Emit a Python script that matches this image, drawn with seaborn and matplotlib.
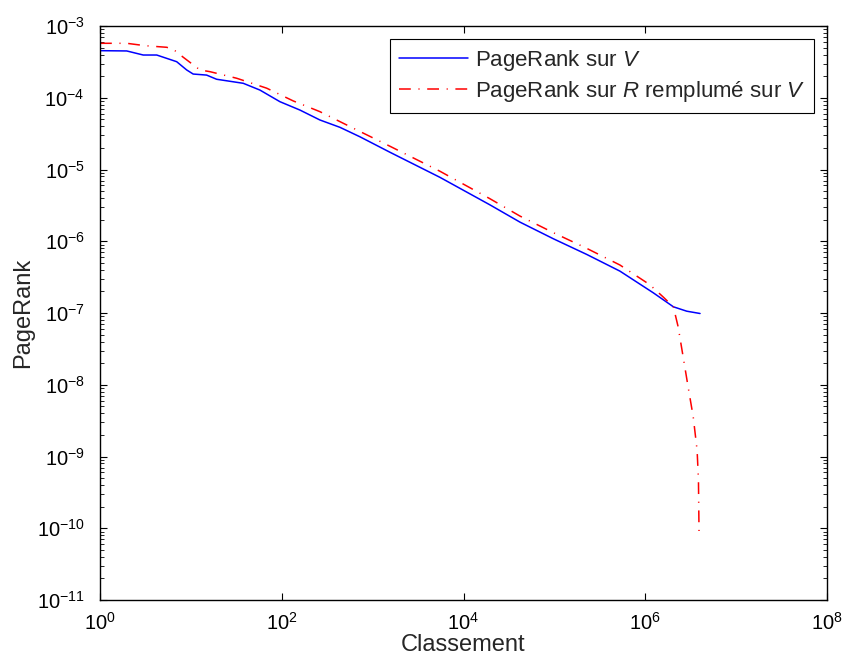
import numpy as np
import pandas as pd
import matplotlib
matplotlib.use("Agg")
import matplotlib.pyplot as plt
import seaborn as sns
from matplotlib.ticker import FixedLocator, NullLocator, NullFormatter, LogFormatterSciNotation

# ---- data ----
rank_v = [1, 1.97, 2.99, 4.21, 6.98, 8.99, 10.6, 14.9, 19.2, 37.7, 57.5, 95.5,
          158, 263, 437, 724, 1550, 5500, 19500, 41900, 97300, 227000,
          527000, 1.227e6, 2.04e6, 2.86e6, 4.01e6]
pagerank_v = [4.53e-4, 4.49e-4, 3.94e-4, 3.94e-4, 3.18e-4, 2.44e-4, 2.14e-4,
              2.07e-4, 1.81e-4, 1.59e-4, 1.28e-4, 8.81e-5, 6.75e-5, 4.90e-5,
              3.87e-5, 2.86e-5, 1.74e-5, 7.78e-6, 3.22e-6, 1.845e-6, 1.084e-6,
              6.55e-7, 3.83e-7, 1.91e-7, 1.22e-7, 1.06e-7, 9.84e-8]

rank_r = [1, 1.97, 3.16, 5.42, 6.40, 8.26, 12.6, 16.2, 31.9, 68.2, 134, 263,
          475, 1550, 5500, 19500, 41900, 97300, 227000, 527000, 1.122e6,
          1.585e6, 2.04e6, 2.30e6, 2.61e6, 2.96e6, 3.37e6, 3.72e6, 3.85e6,
          3.91e6]
pagerank_r = [5.74e-4, 5.74e-4, 5.31e-4, 5.05e-4, 4.73e-4, 3.66e-4, 2.44e-4,
              2.31e-4, 1.87e-4, 1.36e-4, 9.02e-5, 6.40e-5, 4.41e-5, 2.11e-5,
              9.46e-6, 3.92e-6, 2.24e-6, 1.318e-6, 7.96e-7, 4.66e-7, 2.48e-7,
              1.66e-7, 1.22e-7, 6.44e-8, 2.46e-8, 9.4e-9, 3.59e-9, 1.23e-9,
              4.71e-10, 8.05e-11]

x_ticks = [1e0, 1e2, 1e4, 1e6, 1e8]
y_ticks = [1e-11, 1e-10, 1e-9, 1e-8, 1e-7, 1e-6, 1e-5, 1e-4, 1e-3]

labels = [r"PageRank sur $\mathit{V}$",
          r"PageRank sur $\mathit{R}$ remplumé sur $\mathit{V}$"]

# ---- style ----
sns.set_theme(style="white")
plt.rcParams["font.family"] = ["Liberation Sans", "DejaVu Sans"]
plt.rcParams["mathtext.fontset"] = "custom"
plt.rcParams["mathtext.rm"] = "Liberation Sans"
plt.rcParams["mathtext.it"] = "Liberation Sans:italic"
plt.rcParams["mathtext.bf"] = "Liberation Sans:bold"
plt.rcParams["lines.scale_dashes"] = False

fig = plt.figure(figsize=(8.46, 6.63), dpi=100)
ax = fig.add_axes([100 / 846, 63 / 663, 727 / 846, 574 / 663])

df_v = pd.DataFrame({"rank": rank_v, "pr": pagerank_v})
df_r = pd.DataFrame({"rank": rank_r, "pr": pagerank_r})

sns.lineplot(data=df_v, x="rank", y="pr", ax=ax, color="#0000ff", lw=1.1,
             estimator=None, sort=False, label=labels[0])
sns.lineplot(data=df_r, x="rank", y="pr", ax=ax, color="#ff0000", lw=1.1,
             estimator=None, sort=False, label=labels[1])
ax.lines[1].set_dashes([8.5, 5.5, 0.8, 5.5])

ax.set_xscale("log")
ax.set_yscale("log")
ax.set_xlim(1, 1e8)
ax.set_ylim(1e-11, 1e-3)

ax.xaxis.set_major_locator(FixedLocator(x_ticks))
ax.xaxis.set_major_formatter(LogFormatterSciNotation())
ax.xaxis.set_minor_locator(NullLocator())
ax.yaxis.set_major_locator(FixedLocator(y_ticks))
ax.yaxis.set_major_formatter(LogFormatterSciNotation())
minor_y = [m * t for t in y_ticks[:-1] for m in range(2, 10)]
ax.yaxis.set_minor_locator(FixedLocator(minor_y))
ax.yaxis.set_minor_formatter(NullFormatter())

ax.tick_params(which="both", direction="in", top=True, right=True,
               bottom=True, left=True, colors="black", labelsize=14.5)
ax.tick_params(which="major", length=5, width=0.8)
ax.tick_params(which="minor", length=3, width=0.6)
ax.tick_params(axis="x", which="major", pad=8.5)
ax.tick_params(axis="y", which="major", pad=11)

for sp in ax.spines.values():
    sp.set_visible(True)
    sp.set_color("black")
    sp.set_linewidth(1.0)

ax.set_xlabel("Classement", fontsize=17, labelpad=0)
ax.set_ylabel("PageRank", fontsize=17, labelpad=2)
ax.grid(False)

leg = ax.legend(loc="upper right", fontsize=16, frameon=True, fancybox=False,
                edgecolor="black", framealpha=1.0, handlelength=3.1,
                handletextpad=0.3, borderpad=0.4, labelspacing=0.27,
                borderaxespad=0.6)
leg.get_frame().set_linewidth(0.8)

fig.savefig("out.png", dpi=100)
